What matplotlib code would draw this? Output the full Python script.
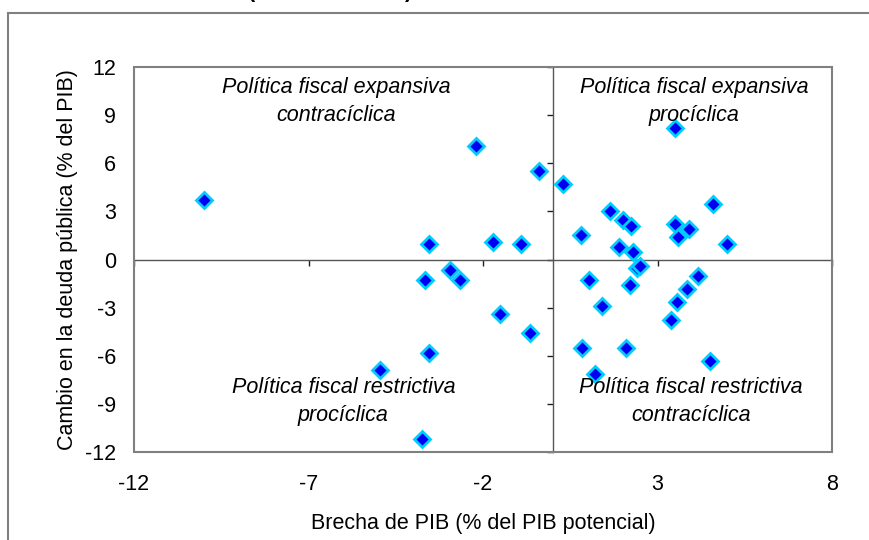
#!/usr/bin/python3
import matplotlib
matplotlib.use('Agg')
import matplotlib.pyplot as plt
from matplotlib.patches import Rectangle

# output gap (% of potential GDP) and change in public debt (% of GDP)
brecha_pib = [-10.0, -2.2, -0.4, -3.55, -1.7, -0.9, -3.65, -2.95, -2.65, -1.5,
              -0.65, -3.55, -4.95, -3.75,
              3.5, 0.3, 4.6, 1.65, 2.0, 2.25, 3.5, 3.9, 3.6, 0.8,
              1.9, 2.3, 5.0, 2.4, 2.5, 4.15, 1.05, 2.2, 3.85, 3.55,
              1.4, 3.4, 0.85, 2.1, 4.5, 1.2]
cambio_deuda = [3.7, 7.1, 5.5, 0.95, 1.1, 0.95, -1.3, -0.65, -1.3, -3.4,
                -4.6, -5.85, -6.9, -11.2,
                8.2, 4.7, 3.45, 3.0, 2.45, 2.1, 2.2, 1.9, 1.4, 1.5,
                0.75, 0.45, 0.95, -0.55, -0.42, -1.0, -1.3, -1.6, -1.85, -2.65,
                -2.9, -3.75, -5.5, -5.5, -6.3, -7.15]

x_ticks = [-12, -7, -2, 3, 8]
y_ticks = [-12, -9, -6, -3, 0, 3, 6, 9, 12]

quadrant_labels = ['Política fiscal expansiva\ncontracíclica',
                   'Política fiscal expansiva\nprocíclica',
                   'Política fiscal restrictiva\nprocíclica',
                   'Política fiscal restrictiva\ncontracíclica']
quadrant_pos = [(-6.2, 9.85), (4.05, 9.85), (-6.0, -8.85), (3.95, -8.85)]


def main():
    plt.rcParams['font.family'] = ['Liberation Sans', 'DejaVu Sans']
    plt.rcParams['axes.unicode_minus'] = False
    fs = 15.5
    fs_ticks = 15.5
    frame_col = '#808080'
    axis_col = '#555555'

    fig = plt.figure(figsize=(8.7, 5.4), dpi=100)

    # outer border of the chart object (cut by the image edge)
    fig.add_artist(Rectangle((8 / 870, -0.2), 1.5, 1.2 - 13 / 540,
                             transform=fig.transFigure, fill=False,
                             edgecolor=frame_col, linewidth=1.5))
    # title, almost completely cropped away
    fig.text(330 / 870, 1.006, '(' + ' ' * 25 + ')', ha='center',
             va='baseline', fontsize=fs, fontweight='bold')

    ax = fig.add_axes([134 / 870, 88 / 540, 698 / 870, 385 / 540])
    ax.plot(brecha_pib, cambio_deuda, linestyle='none', marker='D',
            markersize=8, markerfacecolor='#0000F0',
            markeredgecolor='#00CCFF', markeredgewidth=2.0, zorder=3)

    ax.set_xlim(-12, 8)
    ax.set_ylim(-12, 12)

    # axes crossing at zero, ticks on them but no labels
    ax.spines['left'].set_position(('data', 0))
    ax.spines['bottom'].set_position(('data', 0))
    ax.spines['top'].set_visible(False)
    ax.spines['right'].set_visible(False)
    for s in ['left', 'bottom']:
        ax.spines[s].set_color(axis_col)
        ax.spines[s].set_linewidth(1.0)
    ax.set_xticks(x_ticks)
    ax.set_yticks(y_ticks)
    ax.tick_params(direction='out', length=4.5, width=1.0, color='#222222',
                   labelbottom=False, labelleft=False)

    # plot area frame
    ax.add_patch(Rectangle((0, 0), 1, 1, transform=ax.transAxes, fill=False,
                           edgecolor=frame_col, linewidth=1.5, zorder=2.6,
                           clip_on=False))

    # tick labels along the frame edges
    sx = ax.secondary_xaxis('bottom')
    sx.set_xticks(x_ticks)
    sx.tick_params(length=0, pad=16, labelsize=fs_ticks)
    sy = ax.secondary_yaxis('left')
    sy.set_yticks(y_ticks)
    sy.tick_params(length=0, pad=13, labelsize=fs_ticks)
    for sa in (sx, sy):
        for s in sa.spines.values():
            s.set_visible(False)

    # quadrant names
    for txt, (xp, yp) in zip(quadrant_labels, quadrant_pos):
        ax.text(xp, yp, txt, ha='center', va='center', fontsize=fs,
                style='italic', linespacing=1.4)

    # set title of axes
    ax.set_xlabel('Brecha de PIB (% del PIB potencial)', fontsize=fs,
                  va='center')
    ax.xaxis.set_label_coords(0.5, -72 / 385)
    ax.set_ylabel('Cambio en la deuda pública (% del PIB)', fontsize=fs,
                  va='center')
    ax.yaxis.set_label_coords(-67 / 698, 0.5)

    plt.savefig('out.png', dpi=100)


if __name__ == '__main__':
    main()
